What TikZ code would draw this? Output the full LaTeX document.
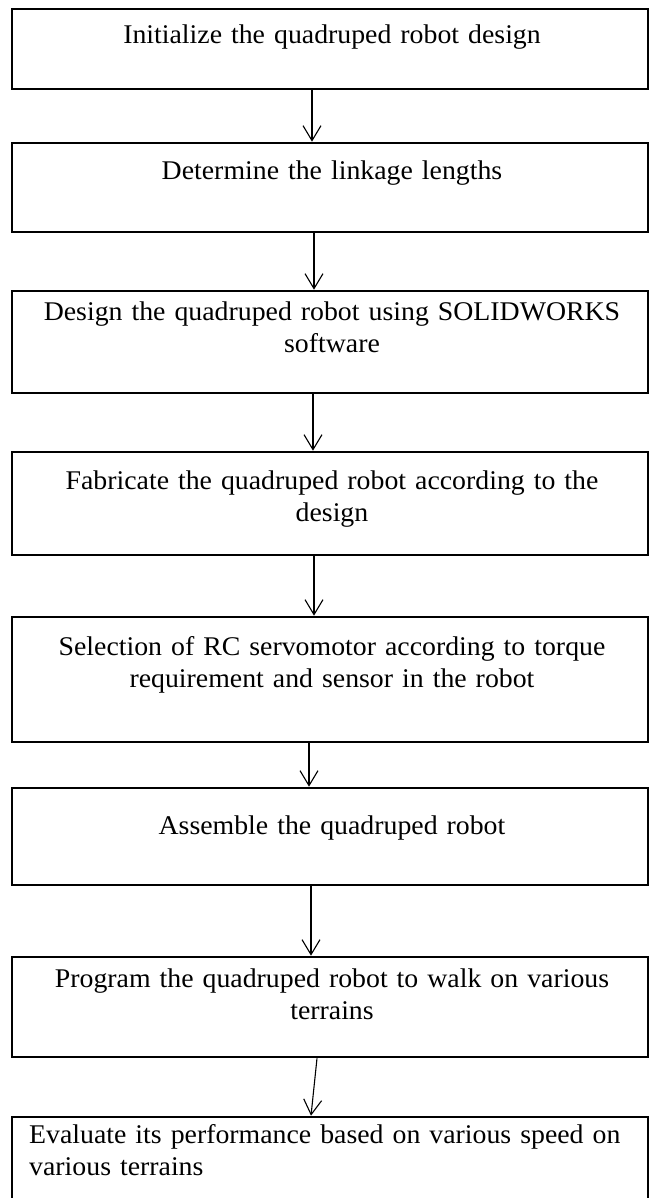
\documentclass[tikz,border=0pt]{standalone}
\usepackage{fontspec}
\setmainfont{Liberation Serif}[FakeStretch=1.03]
\usetikzlibrary{arrows.meta}

\tikzset{
  stepbox/.style={draw=black, line width=2.6pt, minimum width=636pt, inner sep=0pt},
  steptext/.style={text width=616pt, align=center, anchor=base, inner sep=0pt,
    font=\fontsize{27}{32}\selectfont},
  steptextleft/.style={text width=616pt, align=left, anchor=base west, inner sep=0pt,
    font=\fontsize{27}{32}\selectfont},
  flow/.style={draw=black, line width=1.1pt,
    -{Straight Barb[length=15pt, width=18pt, line width=1.1pt]}}
}

\begin{document}
\begin{tikzpicture}[x=1pt, y=-1pt]
  \useasboundingbox (0,0) rectangle (653,1198);
  \fill[white] (0,0) rectangle (653,1198);
  \clip (0,0) rectangle (653,1198);

  % process boxes (centre x, centre y, height)
  \node[stepbox, minimum height=80pt]  (b1) at (330, 49)  {};
  \node[stepbox, minimum height=89pt]  (b2) at (330, 187.5) {};
  \node[stepbox, minimum height=102pt] (b3) at (330, 342) {};
  \node[stepbox, minimum height=103pt] (b4) at (330, 503.5) {};
  \node[stepbox, minimum height=125pt] (b5) at (330, 679.5) {};
  \node[stepbox, minimum height=97pt]  (b6) at (330, 836.5) {};
  \node[stepbox, minimum height=100pt] (b7) at (330, 1007) {};
  \node[stepbox, minimum height=160pt] (b8) at (330, 1197) {};

  % box labels
  \node[steptext] (t1) at (332, 44)  {Initialize the quadruped robot design};
  \node[steptext] (t2) at (332, 180) {Determine the linkage lengths};
  \node[steptext] (t3) at (332, 320) {Design the quadruped robot using SOLIDWORKS\\software};
  \node[steptext] (t4) at (332, 489) {Fabricate the quadruped robot according to the\\design};
  \node[steptext] (t5) at (332, 655) {Selection of RC servomotor according to torque\\requirement and sensor in the robot};
  \node[steptext] (t6) at (332, 834) {Assemble the quadruped robot};
  \node[steptext] (t7) at (332, 987) {Program the quadruped robot to walk on various\\terrains};
  \node[steptextleft] (t8) at (29, 1143) {Evaluate its performance based on various speed on\\various terrains};

  % connectors
  \draw[flow] ([xshift=-18pt]b1.south) -- ([xshift=-18pt]b2.north);
  \draw[flow] ([xshift=-16pt]b2.south) -- ([xshift=-16pt]b3.north);
  \draw[flow] ([xshift=-17pt]b3.south) -- ([xshift=-17pt]b4.north);
  \draw[flow] ([xshift=-16pt]b4.south) -- ([xshift=-16pt]b5.north);
  \draw[flow] ([xshift=-21pt]b5.south) -- ([xshift=-21pt]b6.north);
  \draw[flow] ([xshift=-19pt]b6.south) -- ([xshift=-19pt]b7.north);
  \draw[flow] ([xshift=-13pt]b7.south) -- ([xshift=-19pt]b8.north);
\end{tikzpicture}
\end{document}
